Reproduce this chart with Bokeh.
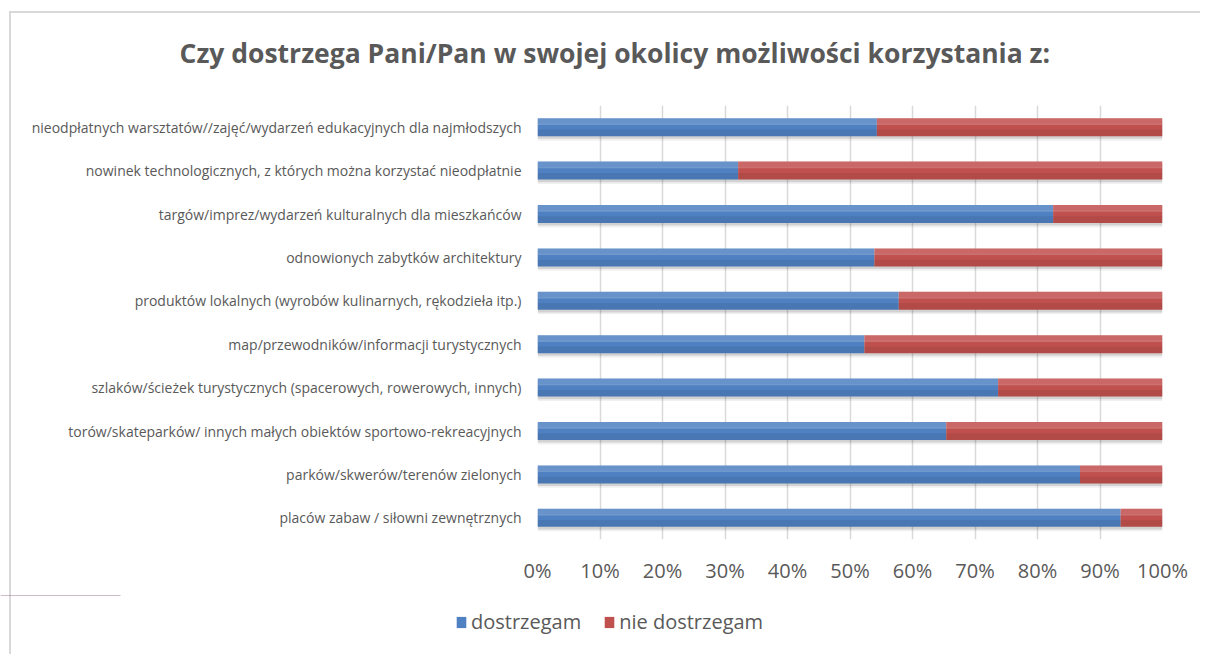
from bokeh.plotting import figure
from bokeh.layouts import column, row
from bokeh.models import (ColumnDataSource, FactorRange, Range1d, FixedTicker,
                          NumeralTickFormatter, Legend, LegendItem)
from bokeh.transform import dodge
from bokeh.embed import file_html
from bokeh.resources import INLINE

# ---- data (top to bottom as shown) ----
categories = [
    "nieodpłatnych warsztatów//zajęć/wydarzeń edukacyjnych dla najmłodszych",
    "nowinek technologicznych, z których można korzystać nieodpłatnie",
    "targów/imprez/wydarzeń kulturalnych dla mieszkańców",
    "odnowionych zabytków architektury",
    "produktów lokalnych (wyrobów kulinarnych, rękodzieła itp.)",
    "map/przewodników/informacji turystycznych",
    "szlaków/ścieżek turystycznych (spacerowych, rowerowych, innych)",
    "torów/skateparków/ innych małych obiektów sportowo-rekreacyjnych",
    "parków/skwerów/terenów zielonych",
    "placów zabaw / siłowni zewnętrznych",
]
dostrzegam = [54.3, 32.1, 82.5, 53.9, 57.8, 52.3, 73.7, 65.4, 86.8, 93.3]
nie_dostrzegam = [45.7, 67.9, 17.5, 46.1, 42.2, 47.7, 26.3, 34.6, 13.2, 6.7]
series_names = ["dostrzegam", "nie dostrzegam"]
series_colors = ["#4F80C2", "#C0504D"]
x_ticks = [0, 0.1, 0.2, 0.3, 0.4, 0.5, 0.6, 0.7, 0.8, 0.9, 1.0]
title_text = "Czy dostrzega Pani/Pan w swojej okolicy możliwości korzystania z:"

FONT = "Open Sans"
GREY = "#595959"
LINE = "linear-gradient(#D9D9D9,#D9D9D9)"

src = ColumnDataSource(dict(
    cat=categories,
    d=[v / 100 for v in dostrzegam],
    n=[v / 100 for v in nie_dostrzegam],
    zero=[0] * len(categories),
))
src.data["dn"] = [a + b for a, b in zip(src.data["d"], src.data["n"])]

p = figure(
    y_range=FactorRange(factors=categories[::-1], range_padding=0),
    x_range=Range1d(0, 1),
    frame_width=625, frame_height=434,
    min_border_left=537, min_border_right=38,
    min_border_top=105, min_border_bottom=56,
    output_backend="svg", toolbar_location=None,
    background_fill_color="white", border_fill_alpha=0,
)
p.outline_line_color = None
p.styles = {
    "background-image": LINE + ", " + LINE,
    "background-size": "100% 2px, 2px 100%",
    "background-position": "9px 11px, 9px 11px",
    "background-repeat": "no-repeat",
}

# title
p.title.text = title_text
p.title.align = "left"
p.title.offset = -358
p.title.standoff = 66
p.title.vertical_align = "top"
p.title.text_font = FONT
p.title.text_font_size = "26.5px"
p.title.text_font_style = "bold"
p.title.text_color = GREY

# shadows
BH = 0.415
for off, h, a in [(-0.075, 0.47, 0.06), (-0.06, BH, 0.12)]:
    p.hbar(y=dodge("cat", off, range=p.y_range), left="zero", right="dn", height=h,
           source=src, fill_color="black", fill_alpha=a, line_color=None)

# bars: base colour + light top / dark bottom overlays (gradient look)
p.hbar(y="cat", left="zero", right="d", height=BH, source=src,
       fill_color=series_colors[0], line_color=None)
p.hbar(y="cat", left="d", right="dn", height=BH, source=src,
       fill_color=series_colors[1], line_color=None)
for off, h, col, a in [(0.13, 0.155, "white", 0.14), (0.07, 0.04, "white", 0.06),
                       (-0.13, 0.155, "black", 0.07)]:
    p.hbar(y=dodge("cat", off, range=p.y_range), left="zero", right="dn", height=h,
           source=src, fill_color=col, fill_alpha=a, line_color=None)

# axes
p.xaxis.ticker = FixedTicker(ticks=x_ticks)
p.xaxis.formatter = NumeralTickFormatter(format="0%")
p.xaxis.axis_line_color = None
p.xaxis.major_tick_line_color = None
p.xaxis.minor_tick_line_color = None
p.xaxis.major_label_text_font = FONT
p.xaxis.major_label_text_font_size = "20px"
p.xaxis.major_label_text_color = GREY
p.xaxis.major_label_standoff = 11

p.yaxis.axis_line_color = None
p.yaxis.major_tick_line_color = None
p.yaxis.major_label_text_font = FONT
p.yaxis.major_label_text_font_size = "14px"
p.yaxis.major_label_text_color = GREY
p.yaxis.major_label_standoff = 10

p.xgrid.ticker = FixedTicker(ticks=x_ticks)
p.xgrid.grid_line_color = "#D9D9D9"
p.xgrid.grid_line_width = 1.5
p.ygrid.grid_line_color = None

# ---- legend strip (separate figure so nothing is clipped) ----
p2 = figure(width=1200, height=59, x_range=Range1d(0, 1), y_range=Range1d(0, 1),
            min_border=0, output_backend="svg", toolbar_location=None,
            background_fill_alpha=0, border_fill_alpha=0)
p2.outline_line_color = None
p2.axis.visible = False
p2.grid.visible = False
p2.styles = {
    "background-image": LINE,
    "background-size": "2px 100%",
    "background-position": "9px 0px",
    "background-repeat": "no-repeat",
}
lr = [p2.hbar(y=[5], left=[0], right=[0.1], height=0.5, fill_color=c, line_color=None)
      for c in series_colors]
legend = Legend(
    items=[LegendItem(label=series_names[i], renderers=[lr[i]]) for i in range(2)],
    orientation="horizontal", location=(455, 19),
    padding=0, margin=0, spacing=22, label_standoff=4,
    glyph_width=12, glyph_height=14,
    label_text_font=FONT, label_text_font_size="20px", label_text_color=GREY,
    border_line_color=None, background_fill_alpha=0,
)
p2.add_layout(legend, "center")

layout = column(p, row(p2), spacing=0)

open("out.html", "w").write(file_html(layout, INLINE))
